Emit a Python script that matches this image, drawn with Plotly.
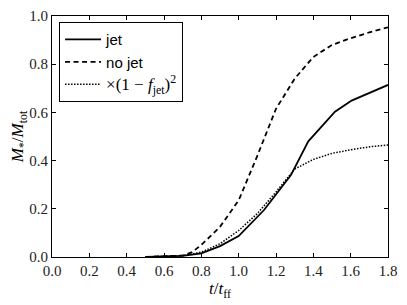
import plotly.graph_objects as go

t_jet = [0.5, 0.6, 0.7, 0.8, 0.9, 1.0, 1.136, 1.28, 1.373, 1.516, 1.605, 1.8]
m_jet = [0.0, 0.002, 0.005, 0.015, 0.045, 0.087, 0.195, 0.34, 0.48, 0.603, 0.649, 0.714]

t_nojet = [0.5, 0.6, 0.7, 0.75, 0.8, 0.9, 1.0, 1.1, 1.2, 1.3, 1.4, 1.5, 1.6, 1.7, 1.8]
m_nojet = [0.0, 0.002, 0.006, 0.02, 0.05, 0.125, 0.235, 0.42, 0.615, 0.74, 0.83, 0.88, 0.908, 0.932, 0.953]

t_corr = [0.5, 0.6, 0.7, 0.8, 0.9, 1.0, 1.1, 1.2, 1.3, 1.4, 1.5, 1.6, 1.7, 1.8]
m_corr = [0.0, 0.002, 0.006, 0.02, 0.055, 0.11, 0.18, 0.27, 0.365, 0.405, 0.43, 0.445, 0.457, 0.465]

x_ticks = [0.0, 0.2, 0.4, 0.6, 0.8, 1.0, 1.2, 1.4, 1.6, 1.8]
y_ticks = [0.0, 0.2, 0.4, 0.6, 0.8, 1.0]

fig = go.Figure()
fig.add_trace(go.Scatter(x=t_jet, y=m_jet, mode="lines", name="jet",
                         line=dict(color="black", width=1.8)))
fig.add_trace(go.Scatter(x=t_nojet, y=m_nojet, mode="lines", name="no jet",
                         line=dict(color="black", width=1.8, dash="5px,3.5px")))
fig.add_trace(go.Scatter(x=t_corr, y=m_corr, mode="lines",
                         name=("<span style=\"font-family:'Liberation Serif';font-size:17px\">"
                               "×(1 − <i>f</i><sub>jet</sub>)<sup>2</sup></span>"),
                         line=dict(color="black", width=1.5, dash="1.5px,1.5px")))

axis_common = dict(showgrid=False, zeroline=False, showline=True, linecolor="black",
                   linewidth=1, mirror="ticks", ticks="inside", ticklen=4,
                   tickcolor="black", automargin=False,
                   tickfont=dict(family="Liberation Serif", size=15, color="#222"))

fig.update_xaxes(range=[0, 1.8], tickvals=x_ticks, ticktext=[f"{v:.1f}" for v in x_ticks],
                 title=dict(text="<i>t</i>/<i>t</i><sub>ff</sub>", standoff=2,
                            font=dict(family="Liberation Serif", size=17, color="black")),
                 **axis_common)
fig.update_yaxes(range=[0, 1.0], tickvals=y_ticks, ticktext=[f"{v:.1f}" for v in y_ticks],
                 title=dict(text="<i>M</i><sub>*</sub>/<i>M</i><sub>tot</sub>", standoff=9,
                            font=dict(family="Liberation Serif", size=17, color="black")),
                 **axis_common)

# the page body adds an 8px offset at top-left, so the figure is sized to fit the window
fig.update_layout(
    width=399, height=297,
    margin=dict(l=44, r=19, t=8, b=48, autoexpand=False),
    plot_bgcolor="white", paper_bgcolor="white",
    showlegend=True,
    legend=dict(x=0.021, y=0.975, xanchor="left", yanchor="top",
                bordercolor="black", borderwidth=1, bgcolor="white",
                font=dict(family="Liberation Sans", size=15, color="black"),
                tracegroupgap=0, itemwidth=36),
)

fig.write_html("out.html")
